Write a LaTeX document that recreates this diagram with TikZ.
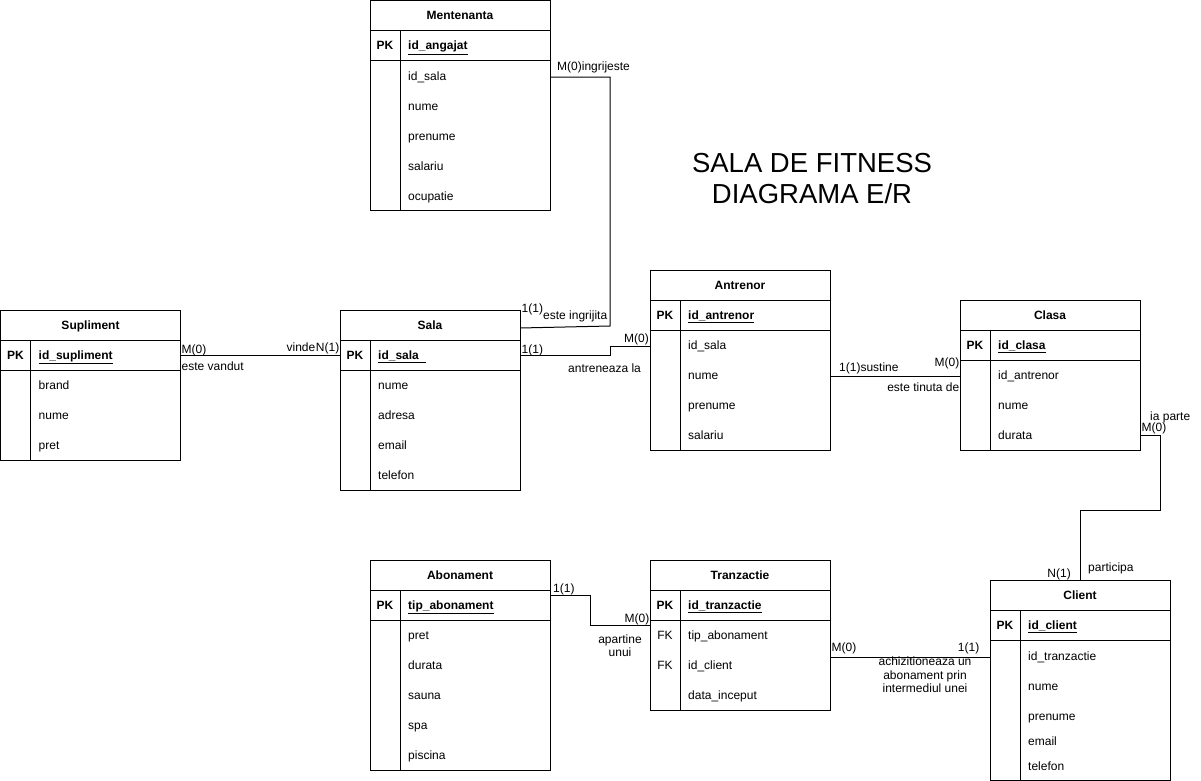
\documentclass[tikz,border=0pt]{standalone}
\usepackage{fontspec}
\setmainfont{Liberation Sans}
\usetikzlibrary{calc}

\tikzset{
	every node/.style={font=\fontsize{12}{14}\selectfont},
	rule/.style={line width=1pt},
	link/.style={line width=1pt},
	tabframe/.style={draw, line width=1pt, fill=white, minimum width=180pt, inner sep=0pt, outer sep=0pt, anchor=north west},
	headcell/.style={draw, line width=1pt, minimum width=180pt, minimum height=30pt, inner sep=0pt, outer sep=0pt, anchor=north west, text height=8.6pt, text depth=0pt, font=\fontsize{12}{14}\selectfont\bfseries},
	tagcell/.style={draw, line width=1pt, minimum width=30pt, minimum height=30pt, inner sep=0pt, outer sep=0pt, anchor=north west, text height=8.6pt, text depth=0pt, font=\fontsize{12}{14}\selectfont\bfseries},
	fkcell/.style={inner sep=0pt, text height=8.6pt, text depth=0pt},
	field/.style={inner sep=0pt, anchor=base west},
	rel/.style={inner sep=0pt}
}

\begin{document}
\begin{tikzpicture}[x=1pt, y=-1pt]
	\useasboundingbox (0,0) rectangle (1201,781);
	
	% tables: frame, header and PK row
	\foreach \tab/\x/\y/\h/\tname/\pkey in {mentenanta/370/0.5/209.5/Mentenanta/{id\_angajat}, supliment/0.5/310/150/Supliment/{id\_supliment}, sala/340/310/180/Sala/{id\_sala\ \ }, antrenor/650/270/180/Antrenor/{id\_antrenor}, clasa/960/300/150/Clasa/{id\_clasa}, abonament/370/560/210/Abonament/{tip\_abonament}, tranzactie/650/560/150/Tranzactie/{id\_tranzactie}, client/990/580/200/Client/{id\_client}}
	{
		\node[tabframe, minimum height=\h pt] (\tab) at (\x,\y) {};
		\node[headcell] (\tab-head) at (\x,\y) {\tname};
		\node[tagcell] (\tab-tag) at (\x,\y+30) {PK};
		\draw[rule] (\tab-tag.south west) -- (\tab-tag.south west -| \tab.east);
		\draw[rule] (\tab-tag.south east) -- (\tab-tag.south east |- \tab.south);
		\node[field, font=\fontsize{12}{14}\selectfont\bfseries] (\tab-key) at ($(\tab.north west)+(38,49.5)$) {\underline{\pkey}};
	}
	
	% attribute rows
	\foreach \tab/\i/\dy/\ftext in {mentenanta/1/75/id\_sala, mentenanta/2/105/nume, mentenanta/3/135/prenume, mentenanta/4/165/salariu, mentenanta/5/195/ocupatie, supliment/1/75/brand, supliment/2/105/nume, supliment/3/135/pret, sala/1/75/nume, sala/2/105/adresa, sala/3/135/email, sala/4/165/telefon, antrenor/1/75/id\_sala, antrenor/2/105/nume, antrenor/3/135/prenume, antrenor/4/165/salariu, clasa/1/75/id\_antrenor, clasa/2/105/nume, clasa/3/135/durata, abonament/1/75/pret, abonament/2/105/durata, abonament/3/135/sauna, abonament/4/165/spa, abonament/5/195/piscina, tranzactie/1/75/tip\_abonament, tranzactie/2/105/id\_client, tranzactie/3/135/data\_inceput, client/1/76/id\_tranzactie, client/2/106/nume, client/3/136/prenume, client/4/161/email, client/5/186/telefon}
	{
		\node[field] (\tab-\i) at ($(\tab.north west)+(38,\dy+4.8)$) {\ftext};
	}
	\foreach \i in {1,2}
	{
		\node[fkcell] (tranzactie-fk\i) at ($(tranzactie.north west)+(15,45+30*\i)$) {FK};
	}
	
	% title
	\node[inner sep=0pt, anchor=north, align=center, font=\fontsize{27.5}{31}\selectfont] (title) at (812,152.6) {SALA DE FITNESS\\DIAGRAMA E/R};
	
	% relationships
	\draw[link] (mentenanta-1 -| mentenanta.east) -| ($(sala-head.east)+(90,1)$) -- ($(sala-head.east)+(0,3)$);
	\draw[link] (supliment-tag -| supliment.east) -- (supliment-tag -| sala.west);
	\draw[link] (sala-tag -| sala.east) -- ++(90,0) |- (antrenor-1 -| antrenor.west);
	\draw[link] (antrenor-2 -| antrenor.east) -- (antrenor-2 -| clasa.west);
	\draw[link] (clasa-3 -| clasa.east) -- ++(20,0) |- ($(client.north)+(0,-70)$) -- (client.north);
	\draw[link] ($(abonament-tag.north west -| abonament.east)+(0,5)$) -- ++(40,0) |- ($(tranzactie-tag.south west)+(0,5)$);
	\draw[link] (client-1 -| tranzactie.east) -- (client-1 -| client.west);
	
	% cardinalities and verbs
	\node[rel, anchor=base west] (card-m1) at (557,71) {M(0)ingrijeste};
	\node[rel, anchor=base west] (card-m2) at (521.5,312.5) {1(1)};
	\node[rel, anchor=base west] (verb-m2) at (543,319) {este ingrijita};
	\node[rel, anchor=base west] (card-s1) at (181.5,353.5) {M(0)};
	\node[rel, anchor=base west] (verb-s1) at (181.5,370) {este vandut};
	\node[rel, anchor=base east] (verb-s2) at (315.5,351) {vinde};
	\node[rel, anchor=base east] (card-s2) at (339.5,351) {N(1)};
	\node[rel, anchor=base west] (card-a1) at (521.5,353.5) {1(1)};
	\node[rel, anchor=base east] (card-a2) at (649,342) {M(0)};
	\node[rel, anchor=base west] (verb-a1) at (568,372) {antreneaza la};
	\node[rel, anchor=base west] (card-c1) at (839,371) {1(1)sustine};
	\node[rel, anchor=base east] (card-c2) at (959.5,366) {M(0)};
	\node[rel, anchor=base east] (verb-c2) at (959.5,391) {este tinuta de};
	\node[rel, anchor=base west] (verb-p1) at (1150,420) {ia parte};
	\node[rel, anchor=base west] (card-p1) at (1141.5,431) {M(0)};
	\node[rel, anchor=base east] (card-p2) at (1071,577) {N(1)};
	\node[rel, anchor=base west] (verb-p2) at (1088,571) {participa};
	\node[rel, anchor=base west] (card-t1) at (553,592) {1(1)};
	\node[rel, anchor=base east] (card-t2) at (649.5,622) {M(0)};
	\node[rel, anchor=north, align=center, font=\fontsize{12}{12.5}\selectfont] (verb-t1) at (620,635) {apartine\\unui};
	\node[rel, anchor=base west] (card-k1) at (831.5,651) {M(0)};
	\node[rel, anchor=base east] (card-k2) at (979.5,651) {1(1)};
	\node[rel, anchor=north, align=center, font=\fontsize{12}{13.7}\selectfont] (verb-k1) at (925,656.5) {achizitioneaza un\\abonament prin\\intermediul unei};
\end{tikzpicture}
\end{document}
